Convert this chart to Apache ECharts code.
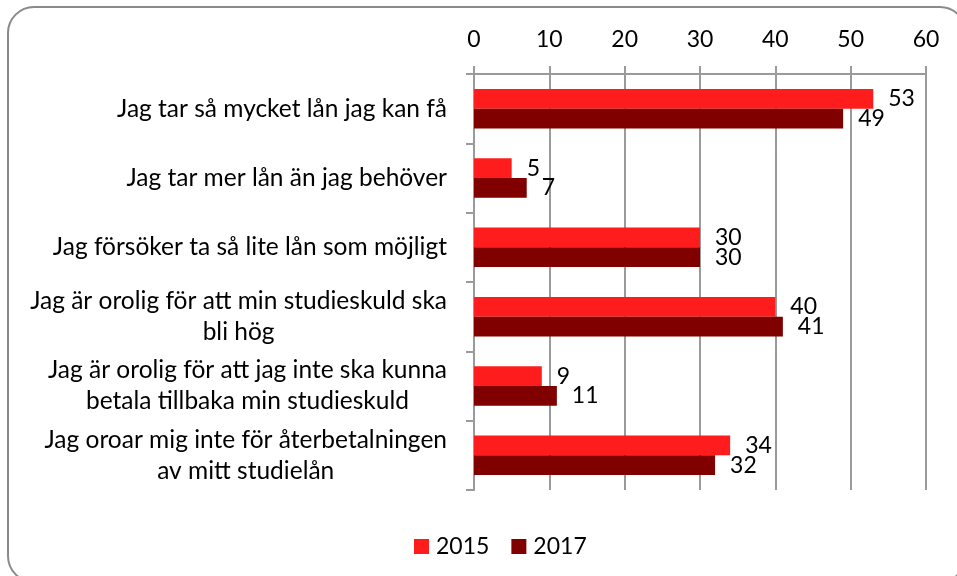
<!DOCTYPE html>
<html>
<head>
<meta charset="utf-8">
<script src="https://cdn.jsdelivr.net/npm/echarts@6/dist/echarts.min.js"></script>
<style>
  html, body { margin: 0; padding: 0; background: #fff; }
  #main { width: 957px; height: 576px; }
</style>
</head>
<body>
<div id="main"></div>
<script>
    // data
    var categories = [
        'Jag tar så mycket lån jag kan få',
        'Jag tar mer lån än jag behöver',
        'Jag försöker ta så lite lån som möjligt',
        'Jag är orolig för att min studieskuld ska\nbli hög',
        'Jag är orolig för att jag inte ska kunna\nbetala tillbaka min studieskuld',
        'Jag oroar mig inte för återbetalningen\nav mitt studielån'
    ]
    var values2015 = [53, 5, 30, 40, 9, 34]
    var values2017 = [49, 7, 30, 41, 11, 32]
    var xTicks = [0, 10, 20, 30, 40, 50, 60]

    var myChart = echarts.init(document.getElementById('main'))
    var font = 'Lato, "Open Sans", sans-serif'
    var gridGray = '#9a9a9a'

    var labelStyle = {
        show: true,
        position: 'right',
        distance: 15,
        color: '#000',
        fontFamily: font,
        fontSize: 23
    }

    var option = {
        animation: false,
        backgroundColor: '#fff',
        graphic: [{
            type: 'rect',
            shape: { x: 8, y: 7, width: 958, height: 575, r: 26 },
            style: { fill: 'none', stroke: '#8a8a8a', lineWidth: 2 },
            z: 0
        }],
        grid: { left: 474, right: 31, top: 74, bottom: 86 },
        legend: {
            top: 530,
            left: 409,
            itemWidth: 15,
            itemHeight: 15,
            itemGap: 22,
            icon: 'rect',
            textStyle: { fontFamily: font, fontSize: 23, color: '#000', padding: [0, 0, 0, 2] },
            data: ['2015', '2017']
        },
        xAxis: {
            type: 'value',
            position: 'top',
            min: xTicks[0],
            max: xTicks[xTicks.length - 1],
            interval: 10,
            axisLine: { show: true, lineStyle: { color: gridGray, width: 2 } },
            axisTick: { show: true, length: 8, lineStyle: { color: gridGray, width: 2 } },
            splitLine: { show: true, lineStyle: { color: gridGray, width: 2 } },
            axisLabel: { margin: 23, color: '#000', fontFamily: font, fontSize: 23 }
        },
        yAxis: {
            type: 'category',
            inverse: true,
            data: categories,
            axisLine: { show: true, lineStyle: { color: gridGray, width: 2 } },
            axisTick: { show: true, length: 8, lineStyle: { color: gridGray, width: 2 } },
            axisLabel: {
                margin: 27,
                align: 'right',
                color: '#000',
                fontFamily: font,
                fontSize: 24.5,
                lineHeight: 31,
                formatter: function (v) {
                    return v.split('\n').map(function (s) { return '{c|' + s + '}' }).join('\n')
                },
                rich: {
                    c: { align: 'center', fontFamily: font, fontSize: 24.5, lineHeight: 31, color: '#000' }
                }
            }
        },
        series: [
            {
                name: '2015',
                type: 'bar',
                data: values2015,
                barGap: '0%',
                barCategoryGap: '43%',
                itemStyle: { color: '#ff1c1c' },
                label: labelStyle
            },
            {
                name: '2017',
                type: 'bar',
                data: values2017,
                barGap: '0%',
                barCategoryGap: '43%',
                itemStyle: { color: '#800000' },
                label: labelStyle
            }
        ]
    }

    myChart.setOption(option)
</script>
</body>
</html>
